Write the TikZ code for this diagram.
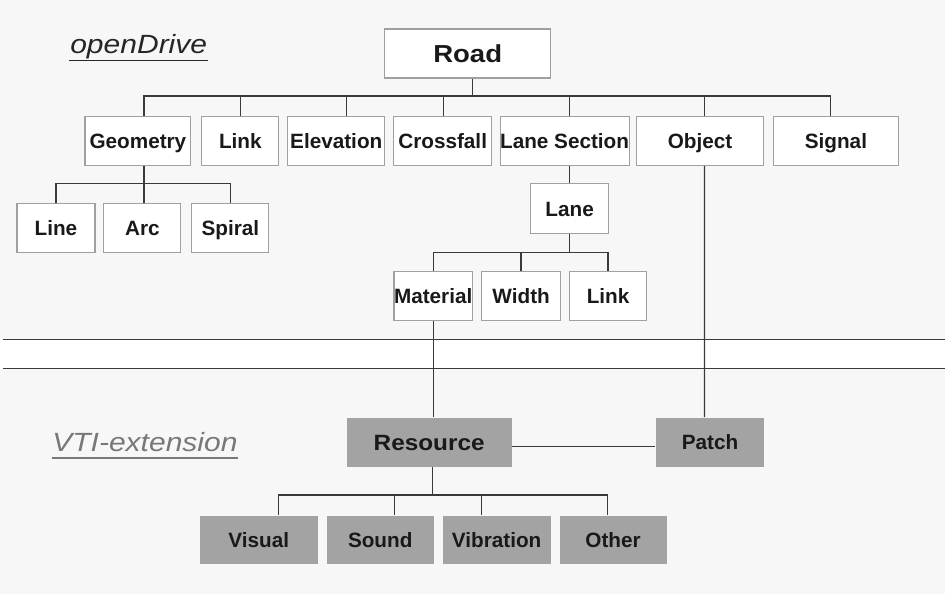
\documentclass[tikz,border=0pt]{standalone}
\usepackage{fontspec}
\setmainfont{Liberation Sans}
\newfontfamily\roadfont[FakeStretch=1.12]{Liberation Sans}
\newfontfamily\resfont[FakeStretch=1.1]{Liberation Sans}
\newfontfamily\titlefont[FakeStretch=1.14]{Liberation Sans}
\usetikzlibrary{calc}
\definecolor{bg}{RGB}{247,247,247}
\definecolor{boxline}{RGB}{160,160,160}
\definecolor{wirecol}{RGB}{58,58,58}
\definecolor{extfill}{RGB}{163,163,163}
\definecolor{exttext}{RGB}{120,120,120}

\begin{document}
\begin{tikzpicture}[
	x=0.02cm, y=-0.02cm,
	box/.style={draw=boxline, line width=0.65pt, fill=white, inner sep=0pt,
		minimum height=49*0.02cm, text=black!90, text height=8.5pt, text depth=0pt,
		font=\bfseries\fontsize{11.8}{14}\selectfont},
	ext/.style={box, draw=none, fill=extfill},
	bw/.style={minimum width=#1*0.02cm},
	con/.style={draw=wirecol, line width=0.75pt},
	title/.style={anchor=base west, inner sep=0pt,
		font=\titlefont\itshape\fontsize{15}{18}\selectfont}
]
%/*

\fill[bg] (0,0) rectangle (946,594);
\fill[white] (0,340) rectangle (946,369);
\draw[con] (3,340) -- (946,340);
\draw[con] (3,369) -- (946,369);

\node[title, text=black!85] (od) at (70,54) {openDrive};
\draw[draw=black!85, line width=0.85pt] ($(od.base west)+(-1,6.5)$) -- ($(od.base east)+(0,6.5)$);
\node[title, text=exttext] (vti) at (52,451.7) {VTI-extension};
\draw[draw=exttext, line width=0.85pt] ($(vti.base west)+(0,6.5)$) -- ($(vti.base east)+(0,6.5)$);

\node[box, bw=166, text height=10pt, font=\roadfont\bfseries\fontsize{14}{16}\selectfont] (road) at (468,53.5) {Road};

\node[box, bw=106] (geo) at (138,141) {Geometry};
\node[box, bw=77] (link) at (240.5,141) {Link};
\node[box, bw=97] (elev) at (336.5,141) {Elevation};
\node[box, bw=98] (cross) at (443,141) {Crossfall};
\node[box, bw=126] (lsec) at (565,141) {Lane Section};
\node[box, bw=127] (obj) at (700.5,141) {Object};
\node[box, bw=125] (sig) at (836.5,141) {Signal};

\node[box, bw=78] (line) at (56,228.5) {Line};
\node[box, bw=77] (arc) at (142.5,228.5) {Arc};
\node[box, bw=77] (spiral) at (230.5,228.5) {Spiral};

\node[box, bw=78, minimum height=50*0.02cm] (lane) at (570,209) {Lane};
\node[box, bw=78] (mat) at (433.5,296.5) {Material};
\node[box, bw=79] (width) at (521.5,296.5) {Width};
\node[box, bw=77] (llink) at (608.5,296.5) {Link};

\node[ext, bw=165, text height=9pt, font=\resfont\bfseries\fontsize{12.6}{15}\selectfont] (res) at (429.5,442.5) {Resource};
\node[ext, bw=109] (patch) at (710.5,442.5) {Patch};

\node[ext, bw=118, minimum height=48*0.02cm] (vis) at (259,540) {Visual};
\node[ext, bw=107, minimum height=48*0.02cm] (snd) at (380.5,540) {Sound};
\node[ext, bw=108, minimum height=48*0.02cm] (vib) at (497,540) {Vibration};
\node[ext, bw=107, minimum height=48*0.02cm] (oth) at (613.5,540) {Other};

% road
\draw[con] ($(road.south)+(5,0)$) -- ++(0,19);
\draw[con] ($(geo.north)+(6,0)$) -- ++(0,-20) -| ($(sig.north)+(-5.5,0)$);
\foreach \n/\d in {link/0, elev/10.5, cross/1, lsec/5, obj/4.5}
	\draw[con] ($(\n.north)+(\d,0)$) -- ++(0,-20);

% geometry
\draw[con] ($(geo.south)+(6,0)$) -- ++(0,18.5);
\draw[con] (line.north) -- ++(0,-20) -| (spiral.north);
\draw[con] ($(arc.north)+(1.5,0)$) -- ++(0,-20);

% lane
\draw[con] ($(lsec.south)+(5,0)$) -- (lane.north);
\draw[con] (lane.south) -- ++(0,19);
\draw[con] (mat.north) -- ++(0,-19) -| (llink.north);
\draw[con] (width.north) -- ++(0,-19);

% extension
\draw[con] (mat.south) -- ($(res.north)+(4,0)$);
\draw[con] ($(obj.south)+(4.5,0)$) -- ($(patch.north)+(-5.5,0)$);
\draw[con] ($(res.east)+(0,4.5)$) -- ($(patch.west)+(0,4.5)$);
\draw[con] ($(res.south)+(3.5,0)$) -- ++(0,29);
\draw[con] ($(vis.north)+(20,0)$) -- ++(0,-20) -| ($(oth.north)+(-5.5,0)$);
\foreach \n/\d in {snd/14.5, vib/-15}
	\draw[con] ($(\n.north)+(\d,0)$) -- ++(0,-20);
%*/
\end{tikzpicture}
\end{document}
